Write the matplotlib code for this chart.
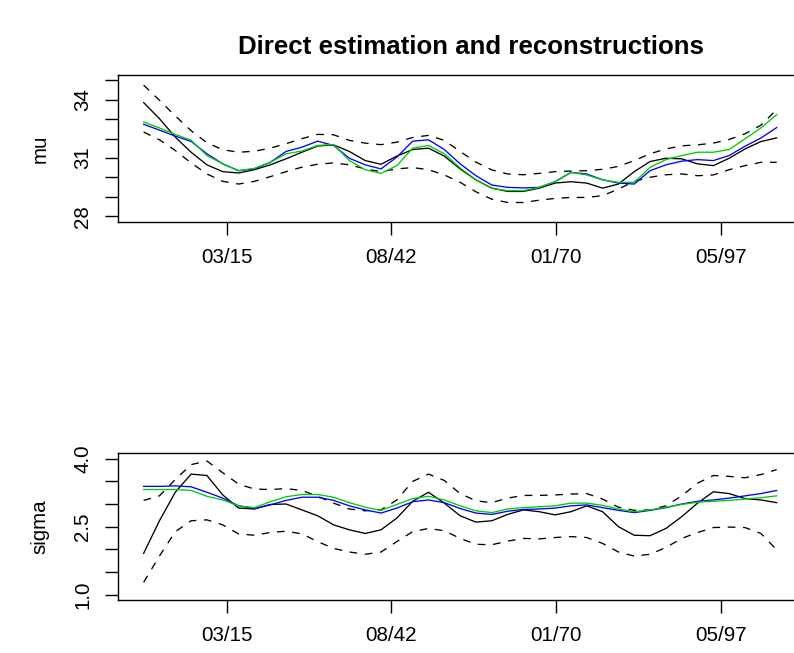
import matplotlib
matplotlib.use("Agg")
import matplotlib.pyplot as plt
import numpy as np

plt.rcParams['font.family'] = ['Liberation Sans', 'DejaVu Sans']

# sampling grid (decimal years), values at each point
years = np.linspace(1901.4, 2006.7, 41)
days = (years - 1970.0) * 365.25

tick_days = [-20000, -10000, 0, 10000]
tick_labels = ['03/15', '08/42', '01/70', '05/97']

# ---- mu panel ----
mu_est = [33.86, 33.03, 32.08, 31.30, 30.65, 30.30, 30.23, 30.40, 30.65, 30.96,
          31.30, 31.62, 31.68, 31.34, 30.87, 30.68, 31.10, 31.44, 31.51, 31.10,
          30.44, 29.87, 29.45, 29.28, 29.28, 29.45, 29.71, 29.78, 29.71, 29.45,
          29.66, 30.30, 30.82, 30.99, 30.96, 30.70, 30.61, 30.99, 31.47, 31.85, 32.04]
mu_hi = [34.76, 33.98, 33.17, 32.41, 31.79, 31.43, 31.30, 31.35, 31.51, 31.74,
         32.00, 32.22, 32.20, 31.91, 31.77, 31.69, 31.82, 32.06, 32.17, 31.91,
         31.34, 30.79, 30.39, 30.18, 30.14, 30.21, 30.30, 30.33, 30.35, 30.42,
         30.57, 30.87, 31.22, 31.47, 31.63, 31.68, 31.77, 31.96, 32.25, 32.69, 33.50]
mu_lo = [32.34, 31.94, 31.39, 30.75, 30.18, 29.80, 29.66, 29.80, 30.04, 30.30,
         30.53, 30.68, 30.75, 30.65, 30.44, 30.30, 30.44, 30.51, 30.40, 30.13,
         29.75, 29.26, 28.88, 28.71, 28.71, 28.83, 28.92, 28.97, 28.97, 29.06,
         29.40, 29.80, 30.01, 30.14, 30.18, 30.09, 30.13, 30.40, 30.61, 30.78, 30.78]
mu_blue = [32.74, 32.44, 32.13, 31.86, 31.22, 30.70, 30.35, 30.44, 30.78, 31.34,
           31.56, 31.87, 31.65, 30.99, 30.65, 30.44, 31.05, 31.87, 31.94, 31.44,
           30.70, 30.09, 29.61, 29.49, 29.46, 29.49, 29.78, 30.26, 30.18, 29.88,
           29.71, 29.66, 30.35, 30.65, 30.84, 30.92, 30.87, 31.13, 31.61, 32.03, 32.57]
mu_green = [32.86, 32.55, 32.22, 31.92, 31.13, 30.70, 30.35, 30.47, 30.78, 31.22,
            31.36, 31.65, 31.70, 30.87, 30.40, 30.21, 30.61, 31.51, 31.65, 31.22,
            30.49, 29.88, 29.44, 29.32, 29.32, 29.49, 29.78, 30.26, 30.13, 29.87,
            29.75, 29.75, 30.52, 30.92, 31.13, 31.30, 31.30, 31.44, 31.99, 32.55, 33.24]

# ---- sigma panel ----
sg_est = [1.91, 2.63, 3.26, 3.66, 3.63, 3.20, 2.91, 2.89, 2.99, 3.00,
          2.87, 2.74, 2.54, 2.43, 2.35, 2.43, 2.69, 3.06, 3.26, 3.02,
          2.74, 2.60, 2.63, 2.77, 2.87, 2.83, 2.76, 2.83, 2.96, 2.83,
          2.50, 2.31, 2.30, 2.46, 2.72, 3.02, 3.27, 3.23, 3.12, 3.09, 3.03]
sg_hi = [3.08, 3.18, 3.54, 3.87, 3.95, 3.69, 3.44, 3.33, 3.32, 3.34,
         3.30, 3.17, 3.02, 2.89, 2.85, 2.87, 3.09, 3.50, 3.66, 3.52,
         3.23, 3.07, 3.03, 3.13, 3.19, 3.19, 3.20, 3.22, 3.23, 3.11,
         2.93, 2.86, 2.87, 2.96, 3.18, 3.46, 3.63, 3.61, 3.58, 3.65, 3.76]
sg_lo = [1.27, 1.85, 2.39, 2.63, 2.65, 2.54, 2.34, 2.31, 2.37, 2.40,
         2.34, 2.17, 2.02, 1.94, 1.89, 1.94, 2.17, 2.39, 2.46, 2.41,
         2.24, 2.11, 2.10, 2.18, 2.24, 2.23, 2.26, 2.28, 2.26, 2.13,
         1.94, 1.85, 1.89, 2.04, 2.24, 2.37, 2.48, 2.49, 2.48, 2.35, 1.99]
sg_blue = [3.39, 3.39, 3.40, 3.38, 3.26, 3.13, 2.96, 2.90, 2.98, 3.08,
           3.15, 3.15, 3.08, 2.96, 2.87, 2.80, 2.91, 3.05, 3.09, 3.03,
           2.90, 2.80, 2.77, 2.84, 2.88, 2.89, 2.91, 2.96, 2.98, 2.92,
           2.86, 2.81, 2.86, 2.92, 3.00, 3.06, 3.09, 3.13, 3.18, 3.23, 3.30]
sg_green = [3.32, 3.32, 3.32, 3.30, 3.17, 3.09, 2.96, 2.92, 3.05, 3.16,
            3.21, 3.21, 3.15, 3.03, 2.93, 2.86, 2.99, 3.12, 3.17, 3.09,
            2.96, 2.85, 2.81, 2.89, 2.92, 2.94, 2.96, 3.02, 3.02, 2.97,
            2.89, 2.83, 2.87, 2.93, 2.99, 3.04, 3.06, 3.08, 3.11, 3.14, 3.18]

W, H = 794, 653
fig = plt.figure(figsize=(W / 100, H / 100), dpi=100)

left = 118.3 / W
width = (802 - 118.3) / W   # right edge of the box falls outside the picture
hgt = 146.7 / H
ax1 = fig.add_axes([left, 1 - 221.7 / H, width, hgt])
ax2 = fig.add_axes([left, 1 - 600.0 / H, width, hgt])

dash = (5.8, 5.8)


def draw(ax, est, lo, hi, blue, green, ylim, yticks, ylabels, name):
    ax.plot(days, est, color='black', lw=0.95)
    ax.plot(days, hi, color='black', lw=0.95, dashes=dash)
    ax.plot(days, lo, color='black', lw=0.95, dashes=dash)
    ax.plot(days, blue, color='#0000FF', lw=0.95)
    ax.plot(days, green, color='#00CD00', lw=0.95)
    span = days[-1] - days[0]
    ax.set_xlim(days[0] - 0.04 * span, days[-1] + 0.04 * span)
    ax.set_ylim(*ylim)
    ax.set_xticks(tick_days)
    ax.set_xticklabels(tick_labels)
    ax.set_yticks(yticks)
    ax.set_yticklabels(ylabels, rotation=90, va='center')
    ax.tick_params(direction='out', length=9.4, width=1.0, labelsize=14.8,
                   pad=9.5, colors='black')
    for s in ax.spines.values():
        s.set_linewidth(1.0)
    ax.set_ylabel(name, fontsize=14.8)
    ax.yaxis.set_label_coords(-0.1, 0.5)


mu_ticks = [28, 29, 30, 31, 32, 33, 34, 35]
mu_tl = ['28', '', '', '31', '', '', '34', '']
sg_ticks = [1.0, 1.5, 2.0, 2.5, 3.0, 3.5, 4.0]
sg_tl = ['1.0', '', '', '2.5', '', '', '4.0']

draw(ax1, mu_est, mu_lo, mu_hi, mu_blue, mu_green, (27.72, 35.28), mu_ticks, mu_tl, 'mu')
draw(ax2, sg_est, sg_lo, sg_hi, sg_blue, sg_green, (0.88, 4.12), sg_ticks, sg_tl, 'sigma')

fig.text(471 / W, 1 - 47 / H, 'Direct estimation and reconstructions',
         ha='center', va='center', fontsize=18.6, fontweight='bold')

fig.savefig('out.png', dpi=100)
